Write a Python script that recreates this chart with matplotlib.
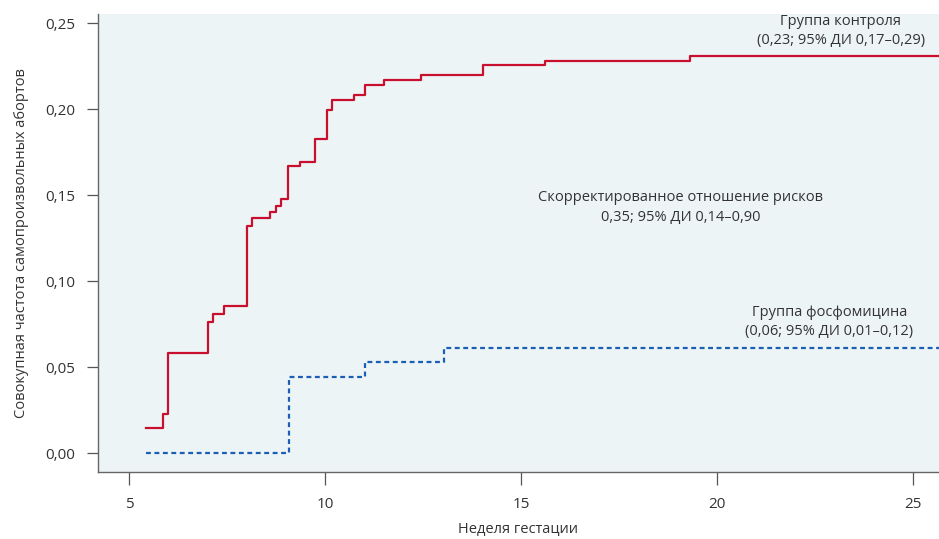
import numpy as np
import matplotlib.pyplot as plt
from matplotlib.ticker import FuncFormatter

plt.rcParams['font.family'] = ['Open Sans', 'DejaVu Sans']

# control group: step times (weeks) and cumulative incidence
ctrl_t = [5.43, 5.86, 5.99, 7.00, 7.14, 7.42, 8.01, 8.14, 8.59, 8.74, 8.88,
          9.04, 9.35, 9.75, 10.04, 10.18, 10.73, 11.01, 11.49, 12.45, 14.03,
          15.61, 19.31, 25.7]
ctrl_y = [0.0147, 0.0229, 0.0585, 0.0762, 0.0810, 0.0856, 0.1322, 0.1366,
          0.1403, 0.1440, 0.1480, 0.1672, 0.1694, 0.1826, 0.1998, 0.2056,
          0.2081, 0.2140, 0.2169, 0.2200, 0.2258, 0.2281, 0.2310, 0.2310]

# fosfomycin group
fos_t = [5.43, 9.07, 11.01, 13.04, 25.7]
fos_y = [0.0, 0.0444, 0.0533, 0.0614, 0.0614]

xticks = [5, 10, 15, 20, 25]
yticks = [0.0, 0.05, 0.10, 0.15, 0.20, 0.25]

fig = plt.figure(figsize=(9.39, 5.39), dpi=100)
ax = fig.add_axes([97.5/939, (539-472)/539, (939-97.5)/939, (472-14)/539])
ax.set_facecolor('#edf4f6')

ax.plot(ctrl_t, ctrl_y, drawstyle='steps-post', color='#c8102e', lw=1.6)
ax.plot(fos_t, fos_y, drawstyle='steps-post', color='#1a5fb4', lw=1.6,
        linestyle=(0, (2.2, 1.6)))

ax.set_xlim(4.19, 25.66)
ax.set_ylim(-0.0109, 0.2554)
ax.set_xticks(xticks)
ax.set_yticks(yticks)
ax.yaxis.set_major_formatter(FuncFormatter(lambda v, p: f"{v:.2f}".replace('.', ',')))

for s in ['top', 'right']:
    ax.spines[s].set_visible(False)
for s in ['left', 'bottom']:
    ax.spines[s].set_color('#666666')
    ax.spines[s].set_linewidth(1.0)
ax.tick_params(axis='x', length=9, width=0.9, color='#555555', labelsize=11,
               labelcolor='#333333', pad=9)
ax.tick_params(axis='y', length=8, width=0.9, color='#555555', labelsize=11,
               labelcolor='#333333', pad=8)

ax.set_xlabel('Неделя гестации', fontsize=10.5, color='#333333', labelpad=7)
ax.set_ylabel('Совокупная частота самопроизвольных абортов', fontsize=10.5,
              color='#333333', labelpad=12)

txt = dict(fontsize=10.5, color='#333333', ha='center', va='center',
           transform=fig.transFigure, linespacing=1.45)
fig.text(841/939, 1 - 31/539, 'Группа контроля\n(0,23; 95% ДИ 0,17–0,29)', **txt)
fig.text(681/939, 1 - 207.5/539,
         'Скорректированное отношение рисков\n0,35; 95% ДИ 0,14–0,90', **txt)
fig.text(829.5/939, 1 - 322/539, 'Группа фосфомицина\n(0,06; 95% ДИ 0,01–0,12)', **txt)

fig.savefig('out.png', dpi=100)
